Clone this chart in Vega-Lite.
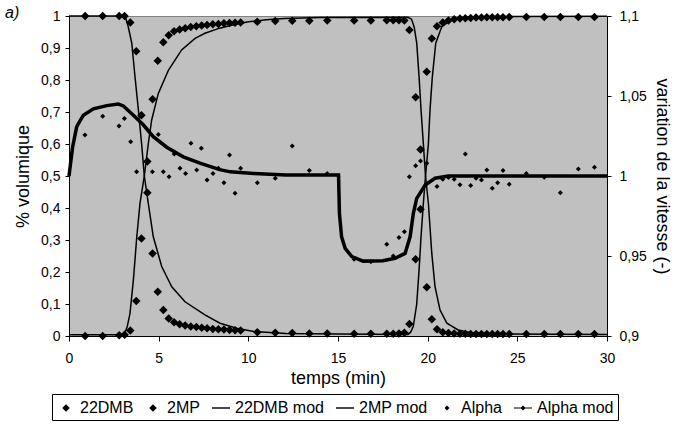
{
  "$schema": "https://vega.github.io/schema/vega-lite/v6.json",
  "width": 538,
  "height": 320,
  "autosize": "none",
  "padding": {"left": 69, "top": 16, "right": 70, "bottom": 88},
  "title": {"text": "a)", "anchor": "start", "frame": "group", "dx": -64, "offset": -12, "fontSize": 16, "fontStyle": "italic", "fontWeight": "normal", "font": "Liberation Sans", "color": "black"},
  "datasets": {
    "exp": [
      {"t":0.9,"series":"22DMB","v":1.0},{"t":1.88,"series":"22DMB","v":1.0},{"t":2.8,"series":"22DMB","v":1.0},{"t":3.1,"series":"22DMB","v":1.0},{"t":3.42,"series":"22DMB","v":0.98},{"t":3.75,"series":"22DMB","v":0.89},{"t":4.04,"series":"22DMB","v":0.69},{"t":4.37,"series":"22DMB","v":0.448},{"t":4.66,"series":"22DMB","v":0.258},{"t":4.95,"series":"22DMB","v":0.138},{"t":5.26,"series":"22DMB","v":0.081},{"t":5.56,"series":"22DMB","v":0.055},{"t":5.86,"series":"22DMB","v":0.043},{"t":6.17,"series":"22DMB","v":0.037},{"t":6.48,"series":"22DMB","v":0.033},{"t":6.79,"series":"22DMB","v":0.03},{"t":7.1,"series":"22DMB","v":0.028},{"t":7.4,"series":"22DMB","v":0.026},{"t":7.7,"series":"22DMB","v":0.024},{"t":8.02,"series":"22DMB","v":0.022},{"t":8.33,"series":"22DMB","v":0.021},{"t":8.64,"series":"22DMB","v":0.02},{"t":8.95,"series":"22DMB","v":0.019},{"t":9.26,"series":"22DMB","v":0.018},{"t":9.57,"series":"22DMB","v":0.017},{"t":10.5,"series":"22DMB","v":0.012},{"t":11.5,"series":"22DMB","v":0.01},{"t":12.45,"series":"22DMB","v":0.009},{"t":13.4,"series":"22DMB","v":0.008},{"t":14.4,"series":"22DMB","v":0.008},{"t":15.9,"series":"22DMB","v":0.007},{"t":16.83,"series":"22DMB","v":0.007},{"t":17.72,"series":"22DMB","v":0.007},{"t":18.08,"series":"22DMB","v":0.007},{"t":18.4,"series":"22DMB","v":0.008},{"t":18.7,"series":"22DMB","v":0.01},{"t":18.98,"series":"22DMB","v":0.0375},{"t":19.33,"series":"22DMB","v":0.24},{"t":19.6,"series":"22DMB","v":0.396},{"t":19.95,"series":"22DMB","v":0.826},{"t":20.23,"series":"22DMB","v":0.93},{"t":20.52,"series":"22DMB","v":0.968},{"t":20.84,"series":"22DMB","v":0.98},{"t":21.16,"series":"22DMB","v":0.986},{"t":21.48,"series":"22DMB","v":0.99},{"t":21.8,"series":"22DMB","v":0.992},{"t":22.1,"series":"22DMB","v":0.993},{"t":22.4,"series":"22DMB","v":0.994},{"t":22.7,"series":"22DMB","v":0.995},{"t":23.0,"series":"22DMB","v":0.995},{"t":23.3,"series":"22DMB","v":0.996},{"t":23.6,"series":"22DMB","v":0.996},{"t":23.9,"series":"22DMB","v":0.996},{"t":24.2,"series":"22DMB","v":0.996},{"t":24.55,"series":"22DMB","v":0.997},{"t":25.5,"series":"22DMB","v":0.997},{"t":26.5,"series":"22DMB","v":0.997},{"t":27.4,"series":"22DMB","v":0.997},{"t":28.4,"series":"22DMB","v":0.997},{"t":29.3,"series":"22DMB","v":0.997},
      {"t":0.9,"series":"2MP","v":0.0},{"t":1.88,"series":"2MP","v":0.0},{"t":2.8,"series":"2MP","v":0.002},{"t":3.1,"series":"2MP","v":0.004},{"t":3.42,"series":"2MP","v":0.017},{"t":3.75,"series":"2MP","v":0.109},{"t":4.04,"series":"2MP","v":0.305},{"t":4.37,"series":"2MP","v":0.545},{"t":4.66,"series":"2MP","v":0.74},{"t":4.95,"series":"2MP","v":0.86},{"t":5.26,"series":"2MP","v":0.918},{"t":5.56,"series":"2MP","v":0.94},{"t":5.86,"series":"2MP","v":0.952},{"t":6.17,"series":"2MP","v":0.958},{"t":6.48,"series":"2MP","v":0.962},{"t":6.79,"series":"2MP","v":0.966},{"t":7.1,"series":"2MP","v":0.968},{"t":7.4,"series":"2MP","v":0.97},{"t":7.7,"series":"2MP","v":0.972},{"t":8.02,"series":"2MP","v":0.974},{"t":8.33,"series":"2MP","v":0.975},{"t":8.64,"series":"2MP","v":0.977},{"t":8.95,"series":"2MP","v":0.978},{"t":9.26,"series":"2MP","v":0.979},{"t":9.57,"series":"2MP","v":0.98},{"t":10.5,"series":"2MP","v":0.982},{"t":11.5,"series":"2MP","v":0.984},{"t":12.45,"series":"2MP","v":0.985},{"t":13.4,"series":"2MP","v":0.985},{"t":14.4,"series":"2MP","v":0.986},{"t":15.9,"series":"2MP","v":0.986},{"t":16.83,"series":"2MP","v":0.986},{"t":17.72,"series":"2MP","v":0.987},{"t":18.08,"series":"2MP","v":0.987},{"t":18.4,"series":"2MP","v":0.987},{"t":18.7,"series":"2MP","v":0.986},{"t":18.98,"series":"2MP","v":0.956},{"t":19.33,"series":"2MP","v":0.746},{"t":19.6,"series":"2MP","v":0.583},{"t":19.95,"series":"2MP","v":0.152},{"t":20.23,"series":"2MP","v":0.052},{"t":20.52,"series":"2MP","v":0.021},{"t":20.84,"series":"2MP","v":0.012},{"t":21.16,"series":"2MP","v":0.009},{"t":21.48,"series":"2MP","v":0.008},{"t":21.8,"series":"2MP","v":0.007},{"t":22.1,"series":"2MP","v":0.007},{"t":22.4,"series":"2MP","v":0.006},{"t":22.7,"series":"2MP","v":0.006},{"t":23.0,"series":"2MP","v":0.006},{"t":23.3,"series":"2MP","v":0.006},{"t":23.6,"series":"2MP","v":0.006},{"t":23.9,"series":"2MP","v":0.006},{"t":24.2,"series":"2MP","v":0.006},{"t":24.55,"series":"2MP","v":0.006},{"t":25.5,"series":"2MP","v":0.006},{"t":26.5,"series":"2MP","v":0.006},{"t":27.4,"series":"2MP","v":0.006},{"t":28.4,"series":"2MP","v":0.006},{"t":29.3,"series":"2MP","v":0.006}
    ],
    "mod": [
      {"t":0,"series":"22DMB mod","v":1.0},{"t":3.0,"series":"22DMB mod","v":1.0},{"t":3.15,"series":"22DMB mod","v":0.995},{"t":3.3,"series":"22DMB mod","v":0.967},{"t":3.5,"series":"22DMB mod","v":0.915},{"t":3.68,"series":"22DMB mod","v":0.81},{"t":3.87,"series":"22DMB mod","v":0.706},{"t":4.05,"series":"22DMB mod","v":0.6},{"t":4.2,"series":"22DMB mod","v":0.5},{"t":4.42,"series":"22DMB mod","v":0.415},{"t":4.7,"series":"22DMB mod","v":0.31},{"t":5.17,"series":"22DMB mod","v":0.217},{"t":5.73,"series":"22DMB mod","v":0.154},{"t":6.47,"series":"22DMB mod","v":0.107},{"t":7.58,"series":"22DMB mod","v":0.066},{"t":8.42,"series":"22DMB mod","v":0.04},{"t":9.35,"series":"22DMB mod","v":0.024},{"t":10.3,"series":"22DMB mod","v":0.014},{"t":12.1,"series":"22DMB mod","v":0.008},{"t":15.0,"series":"22DMB mod","v":0.006},{"t":18.9,"series":"22DMB mod","v":0.005},{"t":19.05,"series":"22DMB mod","v":0.012},{"t":19.2,"series":"22DMB mod","v":0.03},{"t":19.39,"series":"22DMB mod","v":0.1},{"t":19.52,"series":"22DMB mod","v":0.206},{"t":19.63,"series":"22DMB mod","v":0.31},{"t":19.76,"series":"22DMB mod","v":0.415},{"t":19.88,"series":"22DMB mod","v":0.5},{"t":20.04,"series":"22DMB mod","v":0.6},{"t":20.13,"series":"22DMB mod","v":0.706},{"t":20.26,"series":"22DMB mod","v":0.81},{"t":20.45,"series":"22DMB mod","v":0.915},{"t":20.79,"series":"22DMB mod","v":0.967},{"t":21.34,"series":"22DMB mod","v":0.988},{"t":22.4,"series":"22DMB mod","v":0.998},{"t":30,"series":"22DMB mod","v":0.999},
      {"t":0,"series":"2MP mod","v":0.004},{"t":3.0,"series":"2MP mod","v":0.004},{"t":3.12,"series":"2MP mod","v":0.01},{"t":3.25,"series":"2MP mod","v":0.03},{"t":3.4,"series":"2MP mod","v":0.07},{"t":3.59,"series":"2MP mod","v":0.175},{"t":3.78,"series":"2MP mod","v":0.31},{"t":3.96,"series":"2MP mod","v":0.415},{"t":4.2,"series":"2MP mod","v":0.5},{"t":4.42,"series":"2MP mod","v":0.6},{"t":4.61,"series":"2MP mod","v":0.675},{"t":4.98,"series":"2MP mod","v":0.758},{"t":5.54,"series":"2MP mod","v":0.83},{"t":6.28,"series":"2MP mod","v":0.894},{"t":7.03,"series":"2MP mod","v":0.93},{"t":7.58,"series":"2MP mod","v":0.946},{"t":8.4,"series":"2MP mod","v":0.962},{"t":9.0,"series":"2MP mod","v":0.97},{"t":10.0,"series":"2MP mod","v":0.982},{"t":11.0,"series":"2MP mod","v":0.988},{"t":12.0,"series":"2MP mod","v":0.992},{"t":14.0,"series":"2MP mod","v":0.995},{"t":18.9,"series":"2MP mod","v":0.996},{"t":19.1,"series":"2MP mod","v":0.99},{"t":19.25,"series":"2MP mod","v":0.965},{"t":19.39,"series":"2MP mod","v":0.915},{"t":19.52,"series":"2MP mod","v":0.81},{"t":19.63,"series":"2MP mod","v":0.706},{"t":19.76,"series":"2MP mod","v":0.6},{"t":19.88,"series":"2MP mod","v":0.5},{"t":20.04,"series":"2MP mod","v":0.415},{"t":20.23,"series":"2MP mod","v":0.258},{"t":20.41,"series":"2MP mod","v":0.154},{"t":20.69,"series":"2MP mod","v":0.081},{"t":21.07,"series":"2MP mod","v":0.04},{"t":21.7,"series":"2MP mod","v":0.019},{"t":22.36,"series":"2MP mod","v":0.011},{"t":24.0,"series":"2MP mod","v":0.006},{"t":30,"series":"2MP mod","v":0.005}
    ],
    "alpha": [
      {"t":0.89,"series":"Alpha","v":1.0256},{"t":1.88,"series":"Alpha","v":1.0374},{"t":2.79,"series":"Alpha","v":1.0312},{"t":3.09,"series":"Alpha","v":1.036},{"t":3.44,"series":"Alpha","v":1.0214},{"t":3.77,"series":"Alpha","v":1.0026},{"t":4.65,"series":"Alpha","v":1.0026},{"t":4.98,"series":"Alpha","v":1.026},{"t":5.26,"series":"Alpha","v":1.0026},{"t":5.58,"series":"Alpha","v":0.9996},{"t":5.87,"series":"Alpha","v":1.0138},{"t":6.19,"series":"Alpha","v":1.0048},{"t":6.5,"series":"Alpha","v":1.0016},{"t":6.8,"series":"Alpha","v":1.0204},{"t":7.12,"series":"Alpha","v":1.0038},{"t":7.38,"series":"Alpha","v":1.0174},{"t":7.7,"series":"Alpha","v":0.9975},{"t":8.03,"series":"Alpha","v":1.0016},{"t":8.33,"series":"Alpha","v":1.0048},{"t":8.64,"series":"Alpha","v":0.9958},{"t":8.95,"series":"Alpha","v":1.0132},{"t":9.26,"series":"Alpha","v":0.9892},{"t":9.57,"series":"Alpha","v":1.0048},{"t":10.5,"series":"Alpha","v":0.9958},{"t":11.5,"series":"Alpha","v":0.9986},{"t":12.45,"series":"Alpha","v":1.0188},{"t":13.4,"series":"Alpha","v":1.0034},{"t":14.4,"series":"Alpha","v":1.0016},{"t":15.9,"series":"Alpha","v":0.948},{"t":16.83,"series":"Alpha","v":0.9464},{"t":17.72,"series":"Alpha","v":0.9574},{"t":18.08,"series":"Alpha","v":0.95},{"t":18.4,"series":"Alpha","v":0.9616},{"t":18.7,"series":"Alpha","v":0.9652},{"t":18.98,"series":"Alpha","v":0.9996},{"t":19.33,"series":"Alpha","v":1.0064},{"t":19.6,"series":"Alpha","v":1.0094},{"t":19.95,"series":"Alpha","v":1.008},{"t":20.52,"series":"Alpha","v":0.9934},{"t":20.84,"series":"Alpha","v":0.998},{"t":21.16,"series":"Alpha","v":0.999},{"t":21.48,"series":"Alpha","v":0.998},{"t":21.8,"series":"Alpha","v":0.9946},{"t":22.1,"series":"Alpha","v":1.0138},{"t":22.4,"series":"Alpha","v":0.994},{"t":22.7,"series":"Alpha","v":0.9986},{"t":23.0,"series":"Alpha","v":0.9975},{"t":23.3,"series":"Alpha","v":1.0038},{"t":23.6,"series":"Alpha","v":0.9923},{"t":23.9,"series":"Alpha","v":0.9958},{"t":24.2,"series":"Alpha","v":1.0034},{"t":24.55,"series":"Alpha","v":0.9948},{"t":25.5,"series":"Alpha","v":1.0016},{"t":26.5,"series":"Alpha","v":0.9992},{"t":27.4,"series":"Alpha","v":0.9896},{"t":28.4,"series":"Alpha","v":1.0044},{"t":29.3,"series":"Alpha","v":1.0054}
    ],
    "alphamod": [
      {"t":0,"series":"Alpha mod","v":1.0},{"t":0.2,"series":"Alpha mod","v":1.018},{"t":0.43,"series":"Alpha mod","v":1.0308},{"t":0.8,"series":"Alpha mod","v":1.038},{"t":1.36,"series":"Alpha mod","v":1.042},{"t":2.1,"series":"Alpha mod","v":1.044},{"t":2.75,"series":"Alpha mod","v":1.045},{"t":3.03,"series":"Alpha mod","v":1.0438},{"t":3.59,"series":"Alpha mod","v":1.038},{"t":4.14,"series":"Alpha mod","v":1.032},{"t":4.7,"series":"Alpha mod","v":1.0246},{"t":5.45,"series":"Alpha mod","v":1.018},{"t":6.37,"series":"Alpha mod","v":1.012},{"t":7.3,"series":"Alpha mod","v":1.008},{"t":8.4,"series":"Alpha mod","v":1.004},{"t":9.0,"series":"Alpha mod","v":1.0026},{"t":10.3,"series":"Alpha mod","v":1.0016},{"t":12.1,"series":"Alpha mod","v":1.0006},{"t":15.03,"series":"Alpha mod","v":1.0006},{"t":15.08,"series":"Alpha mod","v":0.9766},{"t":15.2,"series":"Alpha mod","v":0.962},{"t":15.4,"series":"Alpha mod","v":0.9548},{"t":15.77,"series":"Alpha mod","v":0.9496},{"t":16.4,"series":"Alpha mod","v":0.9468},{"t":17.5,"series":"Alpha mod","v":0.947},{"t":18.18,"series":"Alpha mod","v":0.9486},{"t":18.74,"series":"Alpha mod","v":0.9516},{"t":19.02,"series":"Alpha mod","v":0.962},{"t":19.2,"series":"Alpha mod","v":0.9766},{"t":19.39,"series":"Alpha mod","v":0.986},{"t":19.86,"series":"Alpha mod","v":0.9944},{"t":20.41,"series":"Alpha mod","v":0.9986},{"t":21.15,"series":"Alpha mod","v":1.0},{"t":30,"series":"Alpha mod","v":1.0}
    ]
  },
  "encoding": {
    "x": {"field": "t", "type": "quantitative", "scale": {"domain": [0, 30], "nice": false},
      "axis": {"title": "temps (min)", "values": [0,5,10,15,20,25,30], "tickSize": 5, "labelPadding": 10, "titlePadding": 4, "labelFlush": false}}
  },
  "layer": [
    {
      "encoding": {
        "y": {"field": "v", "type": "quantitative", "scale": {"domain": [0, 1], "nice": false},
          "axis": {"title": "% volumique", "orient": "left", "values": [0,0.1,0.2,0.3,0.4,0.5,0.6,0.7,0.8,0.9,1], "labelExpr": "replace(format(datum.value,'~g'),'.',',')", "tickSize": 4, "labelPadding": 5, "titlePadding": 8}}
      },
      "layer": [
        {
          "data": {"name": "mod"},
          "mark": {"type": "line", "color": "black", "strokeWidth": 1.5},
          "encoding": {"detail": {"field": "series"}}
        },
        {
          "data": {"name": "exp"},
          "mark": {"type": "point", "filled": true, "color": "black", "opacity": 1, "size": 410, "strokeWidth": 0},
          "encoding": {
            "shape": {"field": "series", "type": "nominal",
              "scale": {"domain": ["22DMB","2MP","22DMB mod","2MP mod","Alpha","Alpha mod"],
                "range": ["M0,-0.42L0.42,0L0,0.42L-0.42,0Z","M0,-0.42L0.42,0L0,0.42L-0.42,0Z","M-1,-0.08L1,-0.08L1,0.08L-1,0.08Z","M-1,-0.08L1,-0.08L1,0.08L-1,0.08Z","M0,-0.28L0.28,0L0,0.28L-0.28,0Z","M-1,-0.06L1,-0.06L1,0.06L-1,0.06ZM0,-0.28L0.28,0L0,0.28L-0.28,0Z"]},
              "legend": {"orient": "none", "legendX": -17, "legendY": 378, "direction": "horizontal", "columns": 6, "title": null,
                "symbolSize": 324, "labelFontSize": 16, "labelOffset": 4, "columnPadding": 9, "padding": 4,
                "strokeColor": "black", "fillColor": "white", "labelColor": "black", "labelFont": "Liberation Sans",
                "encode": {"symbols": {"update": {"fill": {"value": "black"}, "opacity": {"value": 1}}}}}
            }
          }
        }
      ]
    },
    {
      "encoding": {
        "y": {"field": "v", "type": "quantitative", "scale": {"domain": [0.9, 1.1], "nice": false},
          "axis": {"title": "variation de la vitesse (-)", "orient": "right", "values": [0.9,0.95,1,1.05,1.1], "labelExpr": "replace(format(datum.value,'~g'),'.',',')", "tickSize": 4, "labelPadding": 8, "titlePadding": 6}}
      },
      "layer": [
        {
          "data": {"name": "alphamod"},
          "mark": {"type": "line", "color": "black", "strokeWidth": 3.5}
        },
        {
          "data": {"name": "alpha"},
          "mark": {"type": "point", "filled": true, "color": "black", "opacity": 1, "size": 320, "strokeWidth": 0},
          "encoding": {
            "shape": {"field": "series", "type": "nominal",
              "scale": {"domain": ["22DMB","2MP","22DMB mod","2MP mod","Alpha","Alpha mod"],
                "range": ["M0,-0.42L0.42,0L0,0.42L-0.42,0Z","M0,-0.42L0.42,0L0,0.42L-0.42,0Z","M-1,-0.08L1,-0.08L1,0.08L-1,0.08Z","M-1,-0.08L1,-0.08L1,0.08L-1,0.08Z","M0,-0.28L0.28,0L0,0.28L-0.28,0Z","M-1,-0.06L1,-0.06L1,0.06L-1,0.06ZM0,-0.28L0.28,0L0,0.28L-0.28,0Z"]}
            }
          }
        }
      ]
    }
  ],
  "resolve": {"scale": {"y": "independent"}},
  "config": {
    "font": "Liberation Sans",
    "view": {"fill": "#C0C0C0", "stroke": "#808080", "strokeWidth": 1},
    "axis": {"grid": false, "domainColor": "black", "domainWidth": 1, "tickColor": "black", "tickWidth": 1, "labelColor": "black", "titleColor": "black", "labelFontSize": 14, "titleFontSize": 18, "titleFontWeight": "normal", "labelFont": "Liberation Sans", "titleFont": "Liberation Sans"}
  }
}
